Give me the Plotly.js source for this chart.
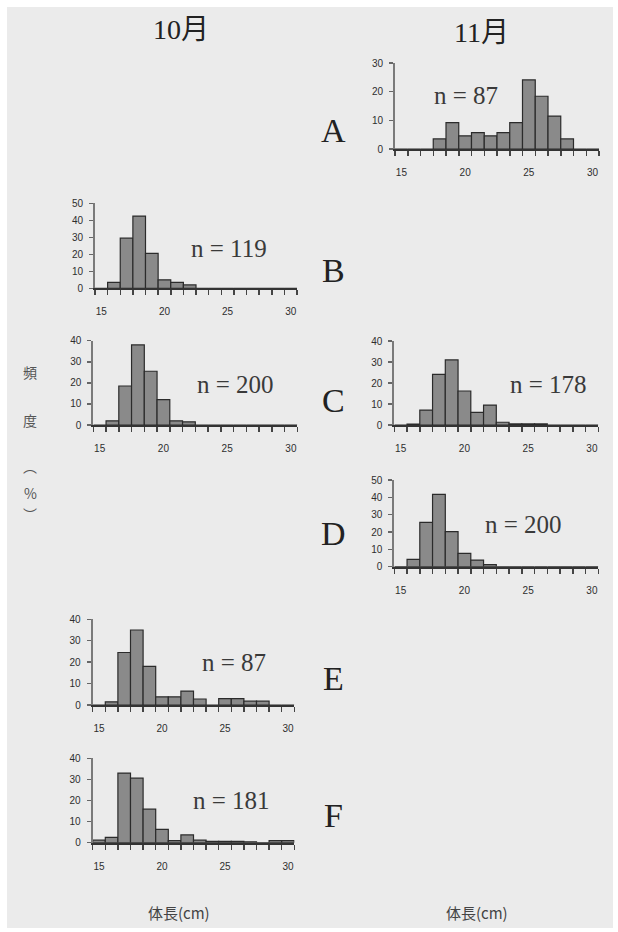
<!DOCTYPE html>
<html><head><meta charset="utf-8">
<script src="https://cdn.plot.ly/plotly-3.0.1.min.js"></script>
<style>body{margin:0;background:#fff}#chart{width:618px;height:932px}</style>
</head><body><div id="chart"></div>
<script>
// Body length classes (cm), one bar per class
const lengthBins = [15,16,17,18,19,20,21,22,23,24,25,26,27,28,29,30];
const xTickVals = [15,20,25,30];
const xTickText = ['15','20','25','30'];

// Frequency (%) per class
const novA   = [0,0,0,3.5,9.2,4.6,5.7,4.6,5.7,9.2,24.1,18.4,11.5,3.5,0,0];
const octB   = [0,3.5,29.5,42.5,20.5,5,3.5,2,0,0,0,0,0,0,0,0];
const octC   = [0,2,18.5,38,25.5,12,2,1.5,0,0,0,0,0,0,0,0];
const novC   = [0,0.4,7.1,24.1,31,16.2,6,9.5,1.3,0.5,0.5,0.5,0,0,0,0];
const novD   = [0,4.2,25.6,41.7,20.2,7.7,3.8,1.2,0,0,0,0,0,0,0,0];
const octE   = [0,1.5,24.5,35,18,3.8,3.8,6.5,2.8,0,3,3,1.8,1.8,0,0];
const octF   = [1.2,2.5,33,30.6,15.9,6.3,1,3.7,1.2,0.6,0.6,0.6,0.4,0,1,1];

const panelLetters = ['A','B','C','D','E','F'];
const sampleSizes = ['n = 87','n = 119','n = 200','n = 178','n = 200','n = 87','n = 181'];
const monthLabels = ['10月','11月'];
const yTitleChars = ['頻','度','︵','%','︶'];
const xTitle = '体長(cm)';

const W = 618, H = 932;
const px = v => v / W;
const py = v => 1 - v / H;

// panel geometry (pixels): x0,x1 of axis, y of zero line, y of top, ymax
const panels = [
  {vals: novA, x0: 395,   x1: 599,   yb: 149,   yt: 63,    ymax: 30, n: 0, nx: 466, ny: 96},
  {vals: octB, x0: 95,    x1: 297,   yb: 288.3, yt: 203.3, ymax: 50, n: 1, nx: 229, ny: 248},
  {vals: octC, x0: 93.3,  x1: 297.3, yb: 425,   yt: 340.7, ymax: 40, n: 2, nx: 235, ny: 385},
  {vals: novC, x0: 394.3, x1: 598.3, yb: 425,   yt: 341,   ymax: 40, n: 3, nx: 548, ny: 384},
  {vals: novD, x0: 394.3, x1: 598.3, yb: 566.7, yt: 480,   ymax: 50, n: 4, nx: 523, ny: 524},
  {vals: octE, x0: 92.7,  x1: 294.3, yb: 705,   yt: 619.3, ymax: 40, n: 5, nx: 234, ny: 662},
  {vals: octF, x0: 92.7,  x1: 294.3, yb: 842.7, yt: 758.3, ymax: 40, n: 6, nx: 231, ny: 800}
];

const tickFont = {family: 'Liberation Sans, Arial, sans-serif', size: 10, color: '#2e2e2e'};
const data = [];
const layout = {
  width: W, height: H,
  margin: {l: 0, r: 0, t: 0, b: 0},
  paper_bgcolor: '#ffffff',
  plot_bgcolor: 'rgba(0,0,0,0)',
  showlegend: false,
  bargap: 0,
  annotations: [],
  shapes: [{type: 'rect', xref: 'paper', yref: 'paper', x0: px(7), x1: px(613), y0: py(928), y1: py(7),
            fillcolor: '#ebebeb', line: {width: 0}, layer: 'below'}]
};

panels.forEach((p, i) => {
  const k = i === 0 ? '' : String(i + 1);
  data.push({
    type: 'bar', x: lengthBins, y: p.vals, width: 1,
    xaxis: 'x' + k, yaxis: 'y' + k,
    marker: {color: '#8a8a8a', line: {color: '#2b2b2b', width: 1.2}},
    hoverinfo: 'x+y'
  });
  layout['xaxis' + k] = {
    domain: [px(p.x0), px(p.x1)], anchor: 'y' + k,
    range: [14.5, 30.5], showgrid: false, zeroline: false,
    showline: true, linecolor: '#333', linewidth: 2,
    tickmode: 'array', tickvals: xTickVals, ticktext: xTickText,
    ticks: 'outside', ticklen: 5, tickcolor: 'rgba(0,0,0,0)', ticklabelstandoff: 8,
    tickfont: tickFont,
    minor: {tickmode: 'linear', tick0: 14.5, dtick: 1, ticks: 'outside', ticklen: 5, tickwidth: 1.5, tickcolor: '#444'}
  };
  layout['yaxis' + k] = {
    domain: [py(p.yb), py(p.yt)], anchor: 'x' + k,
    range: [0, p.ymax], dtick: 10, showgrid: false, zeroline: false,
    showline: true, linecolor: '#7a7a7a', linewidth: 2,
    ticks: 'outside', ticklen: 4, tickwidth: 1.5, tickcolor: '#666',
    tickfont: tickFont, ticklabelstandoff: 4
  };
  layout.annotations.push({
    xref: 'paper', yref: 'paper', x: px(p.nx), y: py(p.ny), showarrow: false,
    xanchor: 'center', yanchor: 'middle', text: sampleSizes[p.n],
    font: {family: 'Liberation Serif, serif', size: 25, color: '#3a3a3a'}
  });
});

const letterY = [130, 270, 400, 533, 678, 815];
panelLetters.forEach((L, i) => {
  layout.annotations.push({
    xref: 'paper', yref: 'paper', x: px(333), y: py(letterY[i]), showarrow: false,
    xanchor: 'center', yanchor: 'middle', text: L,
    font: {family: 'Liberation Serif, serif', size: 34, color: '#222'}
  });
});

[[181, 30], [481, 33]].forEach((pos, i) => {
  layout.annotations.push({
    xref: 'paper', yref: 'paper', x: px(pos[0]), y: py(pos[1]), showarrow: false,
    xanchor: 'center', yanchor: 'middle', text: monthLabels[i],
    font: {family: 'Liberation Serif, Noto Sans CJK JP, serif', size: 28, color: '#222'}
  });
});

const yTitleY = [372, 420, 466, 493, 514];
yTitleChars.forEach((c, i) => {
  layout.annotations.push({
    xref: 'paper', yref: 'paper', x: px(30), y: py(yTitleY[i]), showarrow: false,
    xanchor: 'center', yanchor: 'middle', text: c,
    font: {family: 'Noto Sans CJK JP, sans-serif', size: 14, color: '#555'}
  });
});

[179, 477].forEach(x => {
  layout.annotations.push({
    xref: 'paper', yref: 'paper', x: px(x), y: py(912), showarrow: false,
    xanchor: 'center', yanchor: 'middle', text: xTitle,
    font: {family: 'Noto Sans CJK JP, sans-serif', size: 15, color: '#444'}
  });
});

Plotly.newPlot('chart', data, layout, {staticPlot: true});
</script>
</body></html>
